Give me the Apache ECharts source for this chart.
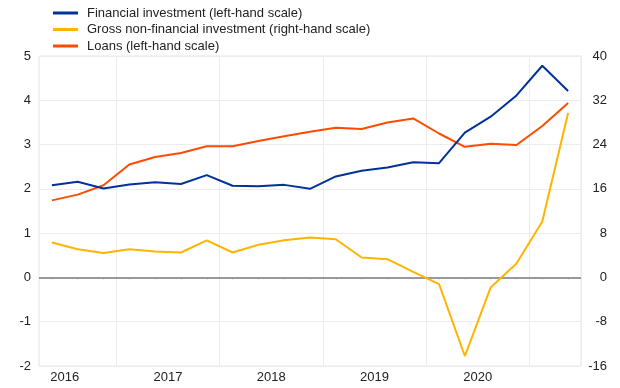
<!DOCTYPE html>
<html>
<head>
<meta charset="utf-8">
<script src="https://cdn.jsdelivr.net/npm/echarts@6/dist/echarts.min.js"></script>
<style>html,body{margin:0;padding:0;background:#fff;}#c{width:620px;height:388px;}</style>
</head>
<body>
<div id="c"></div>
<script>
const quarters = ['2016 Q2','2016 Q3','2016 Q4','2017 Q1','2017 Q2','2017 Q3','2017 Q4','2018 Q1','2018 Q2','2018 Q3','2018 Q4','2019 Q1','2019 Q2','2019 Q3','2019 Q4','2020 Q1','2020 Q2','2020 Q3','2020 Q4','2021 Q1','2021 Q2'];
const financialInvestment = [2.08,2.16,2.01,2.10,2.15,2.11,2.31,2.07,2.06,2.09,2.00,2.28,2.41,2.48,2.60,2.58,3.27,3.63,4.11,4.78,4.21];
const grossNonFinancial = [6.3,5.1,4.4,5.1,4.7,4.5,6.7,4.5,5.9,6.7,7.2,6.9,3.6,3.3,1.0,-1.2,-14.2,-1.8,2.5,10.1,29.7];
const loans = [1.74,1.87,2.08,2.55,2.72,2.81,2.96,2.96,3.08,3.19,3.29,3.38,3.35,3.50,3.59,3.25,2.95,3.02,2.99,3.42,3.94];
const leftTicks = {min: -2, max: 5, interval: 1};
const rightTicks = {min: -16, max: 40, interval: 8};
const seriesNames = ['Financial investment (left-hand scale)','Gross non-financial investment (right-hand scale)','Loans (left-hand scale)'];

const font = 'Liberation Sans, Arial, sans-serif';
const chart = echarts.init(document.getElementById('c'), null, {renderer: 'canvas'});
chart.setOption({
  animation: false,
  color: ['#003299', '#ffb400', '#ff4b00'],
  legend: {
    orient: 'vertical', left: 48, top: 0,
    itemWidth: 25, itemHeight: 3, itemGap: 0.5,
    icon: 'rect',
    textStyle: {fontFamily: font, fontSize: 13, color: '#222', lineHeight: 16, padding: [0,0,0,4]},
    data: seriesNames
  },
  grid: {left: 39, right: 39, top: 56, bottom: 22, show: true, borderColor: '#e4e4e4', borderWidth: 1},
  xAxis: {
    type: 'category', data: quarters, boundaryGap: true,
    axisLine: {show: false},
    axisTick: {show: true, alignWithLabel: true, interval: 0, length: 3, lineStyle: {color: '#e4e4e4'}},
    splitLine: {show: true, interval: function(i){ return i % 4 === 3; }, lineStyle: {color: '#ececec', width: 1}},
    axisLabel: {
      interval: function(i){ return i % 4 === 1; },
      formatter: function(v){ return v.slice(0,4); },
      fontFamily: font, fontSize: 13, color: '#222', margin: 5,
      padding: [0, 26, 0, 0]
    }
  },
  yAxis: [
    {type: 'value', min: leftTicks.min, max: leftTicks.max, interval: leftTicks.interval,
     axisLine: {show: false}, axisTick: {show: false},
     splitLine: {lineStyle: {color: '#ececec'}},
     axisLabel: {fontFamily: font, fontSize: 13, color: '#222', margin: 8}},
    {type: 'value', min: rightTicks.min, max: rightTicks.max, interval: rightTicks.interval, position: 'right',
     axisLine: {show: false}, axisTick: {show: false}, splitLine: {show: false},
     axisLabel: {fontFamily: font, fontSize: 13, color: '#222', margin: 26, align: 'right'}}
  ],
  series: [
    {name: seriesNames[0], type: 'line', data: financialInvestment, yAxisIndex: 0, symbol: 'none', lineStyle: {width: 2}, z: 4,
     markLine: {silent: true, symbol: 'none', label: {show: false}, lineStyle: {color: '#999', width: 2, type: 'solid'}, data: [{yAxis: 0}], z: 1}},
    {name: seriesNames[1], type: 'line', data: grossNonFinancial, yAxisIndex: 1, symbol: 'none', lineStyle: {width: 2}, z: 3},
    {name: seriesNames[2], type: 'line', data: loans, yAxisIndex: 0, symbol: 'none', lineStyle: {width: 2}, z: 3}
  ]
});
</script>
</body>
</html>
